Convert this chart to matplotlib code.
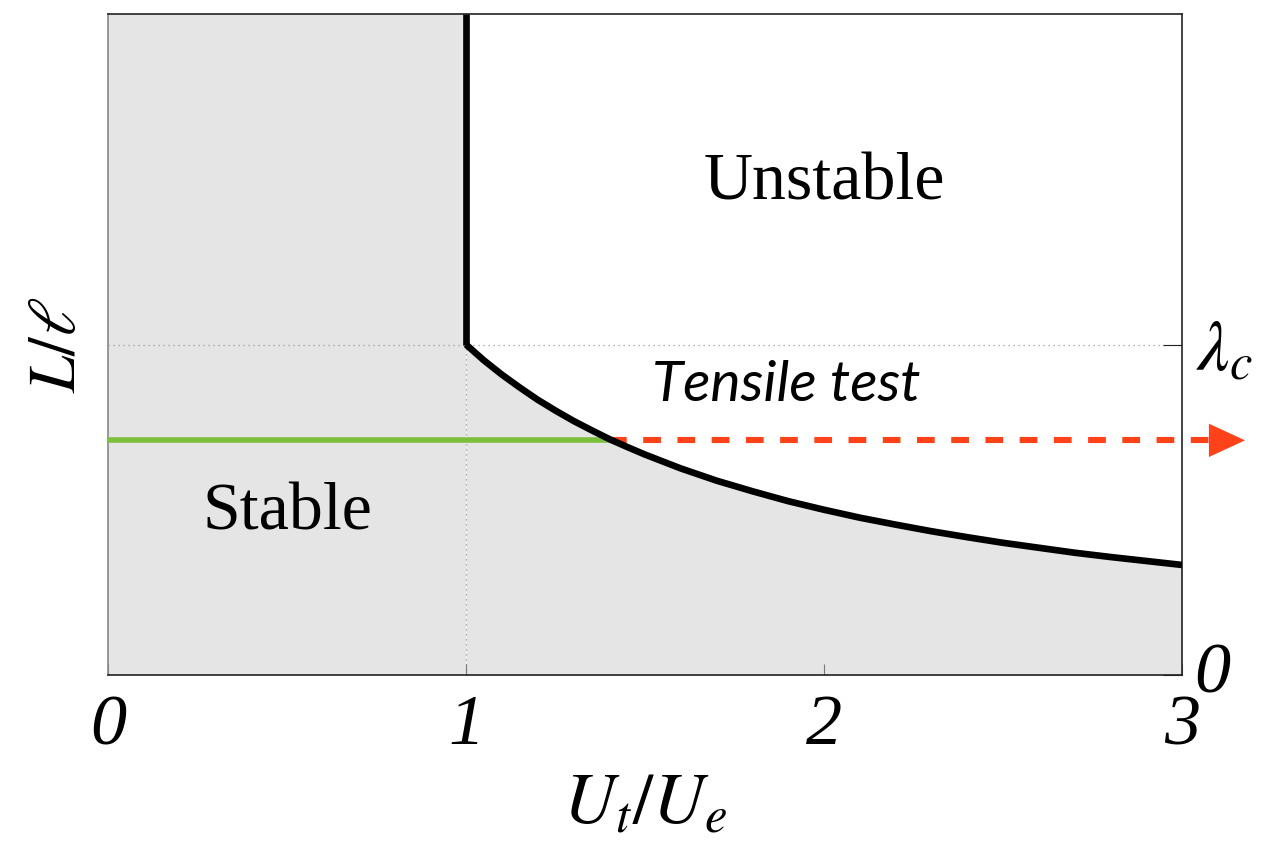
import matplotlib
matplotlib.use('Agg')
import matplotlib.pyplot as plt

# stability boundary (x = U_t/U_e, y = L/l in units of lambda_c)
boundary_x = [1.00, 1.05, 1.10, 1.15, 1.20, 1.25, 1.30, 1.35, 1.40, 1.45, 1.50,
              1.60, 1.70, 1.80, 1.90, 2.00, 2.10, 2.20, 2.30, 2.40, 2.50,
              2.60, 2.70, 2.80, 2.90, 3.00]
boundary_y = [1.000, 0.952, 0.909, 0.870, 0.833, 0.800, 0.769, 0.741, 0.714, 0.690, 0.667,
              0.625, 0.588, 0.556, 0.526, 0.500, 0.476, 0.455, 0.435, 0.417, 0.400,
              0.385, 0.370, 0.357, 0.345, 0.333]
lambda_c = 1.0
y_top = 2.0
x_ticks = [0, 1, 2, 3]
x_tick_labels = ['0', '1', '2', '3']

# tensile test path
test_level = 0.71
test_stable_x = [0.0, 1.40]
test_unstable_x = [1.40, 3.09]
arrow_tip = 3.176

plt.rcParams['mathtext.fontset'] = 'stix'
plt.rcParams['font.family'] = 'Liberation Serif'

fig = plt.figure(figsize=(12.64, 8.43), dpi=100)
ax = fig.add_axes([108 / 1264, 1 - 675 / 843, (1182 - 108) / 1264, (675 - 14) / 843])
ax.set_xlim(0, 3)
ax.set_ylim(0, y_top)

# shaded stable region
grey = '#e5e5e5'
ax.axvspan(0, 1, color=grey, lw=0, zorder=0)
ax.fill_between(boundary_x, 0, boundary_y, color=grey, lw=0, zorder=0)

# guide lines
ax.plot([0, 3], [lambda_c, lambda_c], ls=(0, (1, 3)), color='#999999', lw=0.9, zorder=1)
ax.plot([1, 1], [0, lambda_c], ls=(0, (1, 3)), color='#999999', lw=0.9, zorder=1)

# boundary
ax.plot([1, 1], [lambda_c, y_top], color='black', lw=4.8, solid_capstyle='butt', zorder=4)
ax.plot(boundary_x, boundary_y, color='black', lw=4.8, solid_capstyle='butt',
        solid_joinstyle='round', zorder=4)

# tensile test
ax.plot(test_stable_x, [test_level, test_level], color='#7bbf3d', lw=4.0,
        solid_capstyle='butt', zorder=3)
ax.plot(test_unstable_x, [test_level, test_level], color='#ff4219', lw=4.4,
        dashes=(2.9, 2.7), dash_capstyle='butt', clip_on=False, zorder=3)
ax.annotate('', xy=(arrow_tip, test_level), xytext=(3.08, test_level),
            arrowprops=dict(arrowstyle='-|>,head_length=1.3,head_width=0.6',
                            mutation_scale=20, color='#ff4219', lw=0,
                            shrinkA=0, shrinkB=0),
            annotation_clip=False)

# region labels
ax.text(2.0, 1.49, 'Unstable', fontsize=49, ha='center', va='center')
ax.text(0.5, 0.49, 'Stable', fontsize=49, ha='center', va='center')
ax.text(1.895, 0.875, 'Tensile test', fontsize=41, style='italic', family='Lato',
        ha='center', va='center')

# spines and ticks
for side in ['top', 'right', 'bottom']:
    ax.spines[side].set_color('#222222')
    ax.spines[side].set_linewidth(1.2)
ax.spines['left'].set_color('#888888')
ax.spines['left'].set_linewidth(1.2)

ax.set_xticks(x_ticks)
ax.set_xticklabels(x_tick_labels, fontsize=52, style='italic')
ax.tick_params(axis='x', direction='in', length=8, color='#777777', pad=14)

ax.yaxis.tick_right()
ax.set_yticks([0, lambda_c])
ax.set_yticklabels(['', r'$\lambda_c$'], fontsize=52)
ax.tick_params(axis='y', direction='in', length=14, color='#222222', pad=10)
ax.text(3.035, 0.0, '0', fontsize=52, style='italic', transform=ax.transData,
        ha='left', va='center', clip_on=False)

ax.set_xlabel(r'$U_t/U_e$', fontsize=52, labelpad=10)
ax.set_ylabel(r'$L/\ell$', fontsize=48, labelpad=14)
ax.yaxis.set_label_position('left')

fig.savefig('out.png', dpi=100)
